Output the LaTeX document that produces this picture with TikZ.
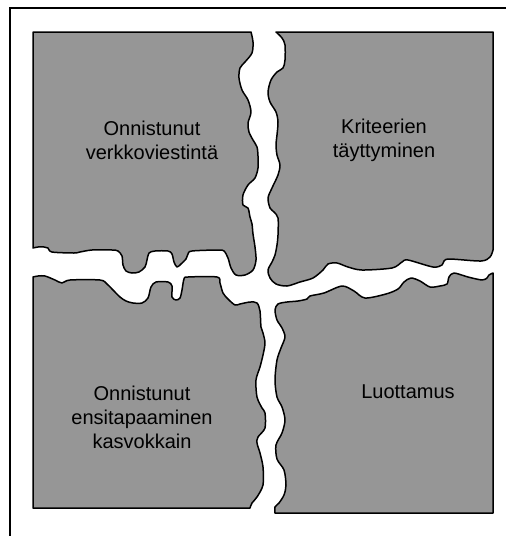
\documentclass[tikz,border=0pt]{standalone}
\usepackage{fontspec}
\setmainfont{Liberation Sans}
\definecolor{piecegray}{RGB}{150,150,150}
\tikzset{
  piece/.style={fill=piecegray, draw=black, line width=1.5pt, line join=round},
  frameline/.style={draw=black, line width=2pt},
  label/.style={align=center, font=\fontsize{20}{24}\selectfont, text=black, inner sep=0pt}
}
\begin{document}
\begin{tikzpicture}[x=1pt,y=-1pt]
\useasboundingbox (0,0) rectangle (506,536);
\fill[white] (0,0) rectangle (506,536);
% outer frame (cut off at right and bottom)
\draw[frameline] (10,536) -- (10,8) -- (506,8);
% top-left piece
\draw[piece] (33,248) -- (33,32) -- (251,32) -- plot[smooth,tension=0.5] coordinates {
 (251,32) (253,42) (252,53) (245,62) (240,68) (239,78) (242,90) (248,100) (251,112) (248,123)
 (249,132) (253,140) (257,147) (258,156) (258,168) (255,178) (248,185) (243,195) (243,205)
 (248,208) (250,217) (252,224) (253,234) (255,247) (256,260) (253,270) (245,275) (236,275)
 (231,268) (228,258) (224,251) (218,250) (192,251) (188,254) (186,259) (181,264) (177,267)
 (174,262) (172,254) (168,251) (155,251) (149,253) (147,260) (145,267) (139,272) (132,273)
 (126,271) (123,265) (122,256) (118,251) (112,250) (92,250) (80,252) (74,253) (52,252)
 (48,248) (44,247) (38,247) (33,248)} -- cycle;
% top-right piece
\draw[piece] (276,32) -- (493,32) -- (493,250) -- plot[smooth,tension=0.5] coordinates {
 (493,250) (490,257) (481,261) (450,259) (444,261) (442,265) (433,267) (408,260) (402,262)
 (392,268) (362,270) (348,267) (337,263) (328,264) (323,270) (313,278) (300,282) (287,286)
 (276,284) (270,278) (268,270) (272,262) (275,255) (277,245) (278,235) (278,218) (274,212)
 (270,208) (268,198) (272,188) (278,175) (280,165) (277,155) (276,145) (277,135) (278,122)
 (276,112) (270,102) (268,92) (271,80) (277,72) (283,68) (285,60) (285,45) (282,38) (276,32)}
 -- cycle;
% bottom-left piece
\draw[piece] (33,277) -- (33,508) -- (250,508) -- plot[smooth,tension=0.5] coordinates {
 (250,508) (252,503) (257,497) (263,485) (263,467) (260,453) (257,443) (258,437) (265,428)
 (265,413) (262,408) (257,397) (256,380) (260,367) (263,355) (265,343) (263,333) (261,327)
 (260,311) (257,303) (250,302) (240,304) (235,305) (228,299) (223,293) (220,283) (217,277)
 (188,277) (184,279) (182,290) (180,298) (176,300) (172,297) (172,286) (168,282) (156,282)
 (151,287) (148,298) (142,303) (133,303) (126,301) (120,297) (113,290) (107,284) (100,280)
 (70,280) (62,283) (55,280) (45,276) (38,276) (33,277)} -- cycle;
% bottom-right piece
\draw[piece] (493,273) -- (493,513) -- (275,513) -- plot[smooth,tension=0.5] coordinates {
 (275,513) (275,507) (279,503) (284,495) (286,485) (284,470) (277,459) (276,445) (282,433)
 (285,420) (282,407) (277,397) (275,380) (277,360) (281,348) (285,337) (282,328) (277,320)
 (275,310) (278,304) (287,302) (298,301) (307,299) (310,296) (324,293) (342,286) (354,291)
 (365,298) (386,294) (398,289) (404,282) (411,278) (420,281) (430,287) (440,286) (447,284)
 (449,277) (454,273) (468,277) (482,280) (487,278) (489,275) (493,273)} -- cycle;
% labels
\node[label] (tl) at (152,140) {Onnistunut\\verkkoviestintä};
\node[label] (tr) at (384,140) {Kriteerien\\täyttyminen};
\node[label] (bl) at (142,417) {Onnistunut\\ensitapaaminen\\kasvokkain};
\node[label] (br) at (408,392) {Luottamus};
\end{tikzpicture}
\end{document}
